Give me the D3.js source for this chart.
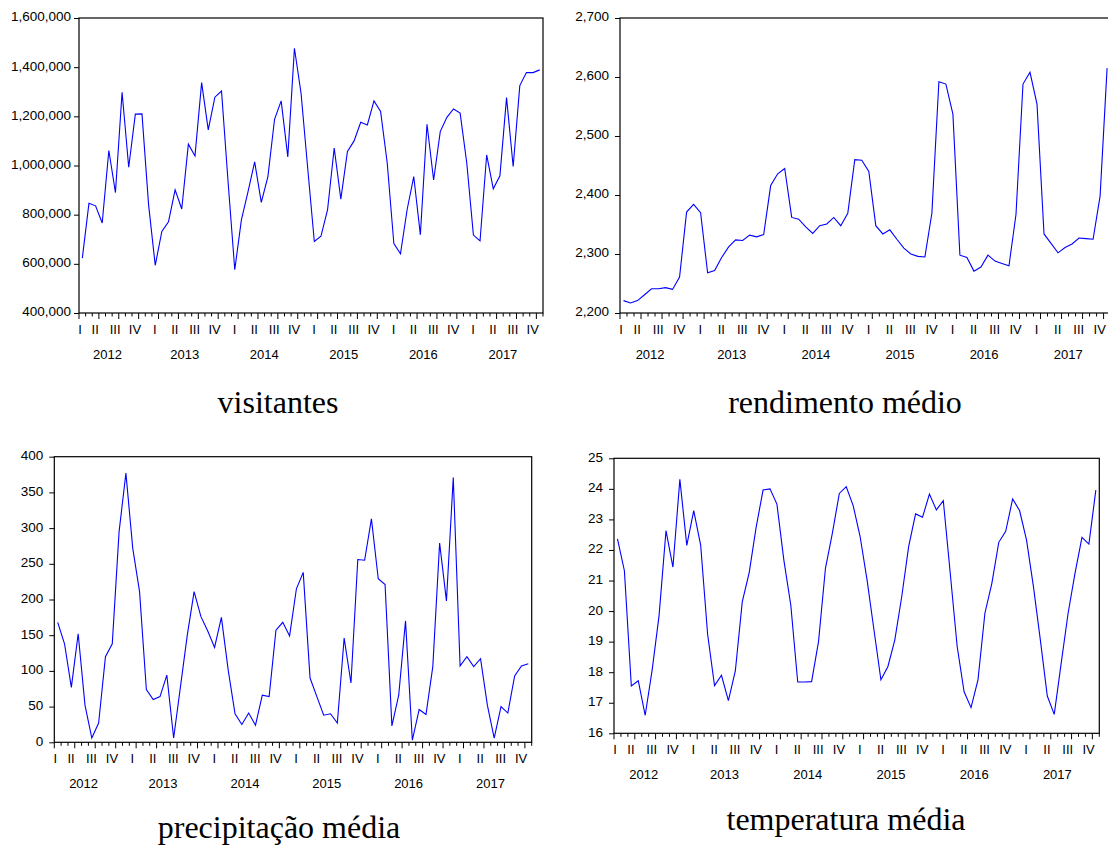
<!DOCTYPE html>
<html>
<head>
<meta charset="utf-8">
<script src="https://cdn.jsdelivr.net/npm/d3@7"></script>
<style>
  body { margin: 0; background: #fff; }
  text { font-family: Arial, "Liberation Sans", sans-serif; }
</style>
</head>
<body>
<div id="chart"></div>
<script>
// monthly observations, 2012M01 .. 2017M10
const years = ["2012", "2013", "2014", "2015", "2016", "2017"];
const quarters = ["I", "II", "III", "IV"];

const visitantes = [
  623000, 846000, 836000, 766000, 1061000, 890000, 1298000, 993000, 1209000, 1210000, 840000, 594000,
  732000, 771000, 901000, 823000, 1087000, 1039000, 1337000, 1145000, 1278000, 1303000, 930000, 576000,
  779000, 894000, 1015000, 850000, 955000, 1188000, 1263000, 1035000, 1477000, 1294000, 990000, 691000,
  712000, 820000, 1071000, 863000, 1057000, 1100000, 1176000, 1165000, 1263000, 1220000, 1010000, 682000,
  641000, 820000, 955000, 718000, 1168000, 941000, 1138000, 1196000, 1230000, 1213000, 1010000, 717000,
  693000, 1043000, 905000, 958000, 1276000, 996000, 1325000, 1378000, 1378000, 1389000
];
const rendimento = [
  2221, 2217, 2221, 2231, 2241, 2241, 2243, 2240, 2261, 2371, 2384, 2370,
  2268, 2272, 2294, 2312, 2324, 2323, 2332, 2329, 2333, 2416, 2436, 2445,
  2362, 2359, 2346, 2335, 2348, 2351, 2362, 2348, 2369, 2460, 2459, 2440,
  2348, 2334, 2341, 2325, 2310, 2300, 2296, 2295, 2369, 2592, 2588, 2537,
  2298, 2294, 2271, 2278, 2298, 2288, 2284, 2280, 2367, 2588, 2608, 2554,
  2334, 2318, 2302, 2311, 2317, 2327, 2326, 2325, 2398, 2615
];
const precipitacao = [
  168, 138, 77, 152, 52, 6, 27, 120, 138, 295, 377, 272,
  211, 74, 60, 64, 94, 6, 78, 150, 211, 176, 156, 133,
  175, 101, 40, 25, 41, 24, 66, 64, 157, 168, 149, 215,
  238, 90, 64, 38, 40, 27, 146, 83, 256, 255, 313, 229,
  221, 23, 66, 170, 3, 46, 39, 106, 279, 198, 371, 107,
  120, 106, 117, 52, 6, 50, 41, 93, 107, 110
];
const temperatura = [
  22.36, 21.32, 17.55, 17.72, 16.59, 18.07, 19.85, 22.63, 21.44, 24.31, 22.15, 23.29,
  22.16, 19.25, 17.56, 17.90, 17.07, 18.04, 20.30, 21.26, 22.74, 23.96, 24.00, 23.50,
  21.67, 20.20, 17.68, 17.68, 17.69, 19.00, 21.40, 22.55, 23.85, 24.07, 23.45, 22.44,
  21.02, 19.38, 17.75, 18.18, 19.05, 20.47, 22.11, 23.18, 23.07, 23.83, 23.31, 23.61,
  21.24, 18.84, 17.36, 16.84, 17.75, 19.93, 20.91, 22.25, 22.61, 23.67, 23.29, 22.33,
  20.80, 19.05, 17.22, 16.62, 18.29, 19.93, 21.24, 22.41, 22.19, 23.96
];

const visTicks = [400000, 600000, 800000, 1000000, 1200000, 1400000, 1600000];
const rendTicks = [2200, 2300, 2400, 2500, 2600, 2700];
const precTicks = [0, 50, 100, 150, 200, 250, 300, 350, 400];
const tempTicks = [16, 17, 18, 19, 20, 21, 22, 23, 24, 25];

const W = 1108, H = 850;
const n = visitantes.length;

const svg = d3.select("#chart")
  .append("svg")
    .attr("width", W)
    .attr("height", H);

svg.append("rect").attr("width", W).attr("height", H).attr("fill", "#fff");

function panel(o) {
  const g = svg.append("g");
  const x = d3.scaleLinear().domain([0, n]).range([o.left, o.right]);
  const y = d3.scaleLinear().domain(o.domain).range([o.bottom, o.top]);

  // y axis
  g.append("g")
    .attr("transform", "translate(" + o.left + ",0)")
    .call(d3.axisLeft(y).tickValues(o.ticks).tickSize(5).tickPadding(o.pad)
      .tickFormat(d3.format(",")))
    .call(a => a.select(".domain").remove())
    .call(a => a.selectAll("line").attr("stroke", "#000"))
    .call(a => a.selectAll("text").attr("font-size", 13.5).attr("fill", "#000")
      .attr("dy", "0.22em"));

  // x ticks: every month, longer at quarter starts
  const months = d3.range(0, n + 1);
  g.append("g").selectAll("line")
    .data(months)
    .enter()
    .append("line")
      .attr("x1", d => x(d))
      .attr("x2", d => x(d))
      .attr("y1", o.bottom)
      .attr("y2", d => o.bottom + (d % 3 == 0 ? 6 : 3.5))
      .attr("stroke", "#000")
      .attr("stroke-width", 1);

  // quarter labels
  const qs = d3.range(0, Math.ceil(n / 3));
  const qx = k => Math.max(o.left + 1, x(3 * k - 0.55));
  g.append("g").selectAll("text")
    .data(qs)
    .enter()
    .append("text")
      .attr("x", qx)
      .attr("y", o.bottom + 21)
      .attr("text-anchor", "middle")
      .attr("font-size", 13)
      .text(k => quarters[k % 4]);

  // year labels centred under I..IV
  g.append("g").selectAll("text")
    .data(years)
    .enter()
    .append("text")
      .attr("x", (d, i) => (qx(4 * i) + qx(4 * i + 3)) / 2)
      .attr("y", o.bottom + 46)
      .attr("text-anchor", "middle")
      .attr("font-size", 13)
      .text(d => d);

  // frame
  g.append("rect")
    .attr("x", o.left).attr("y", o.top)
    .attr("width", o.right - o.left).attr("height", o.bottom - o.top)
    .attr("fill", "none")
    .attr("stroke", "#000")
    .attr("stroke-width", 1.2);

  // series
  const line = d3.line()
    .x((d, i) => x(i + 0.5))
    .y(d => y(d));
  g.append("path")
    .datum(o.data)
    .attr("d", line)
    .attr("fill", "none")
    .attr("stroke", "#0000ff")
    .attr("stroke-width", 1.1);

  // title
  svg.append("text")
    .attr("x", o.tx)
    .attr("y", o.ty)
    .attr("text-anchor", "middle")
    .style("font-family", "'Liberation Serif', 'Times New Roman', serif")
    .attr("font-size", 32)
    .text(o.title);
}

panel({ data: visitantes, domain: [400000, 1600000], ticks: visTicks,
  left: 79, right: 543, top: 18, bottom: 313, pad: 3,
  title: "visitantes", tx: 278, ty: 413 });
panel({ data: rendimento, domain: [2200, 2700], ticks: rendTicks,
  left: 620, right: 1110.6, top: 18, bottom: 313, pad: 6,
  title: "rendimento médio", tx: 845, ty: 413 });
panel({ data: precipitacao, domain: [0, 400], ticks: precTicks,
  left: 54.3, right: 531.7, top: 456.7, bottom: 742.3, pad: 6,
  title: "precipitação média", tx: 279, ty: 838 });
panel({ data: temperatura, domain: [16, 25], ticks: tempTicks,
  left: 614, right: 1099.3, top: 458.3, bottom: 733.3, pad: 6,
  title: "temperatura média", tx: 846, ty: 830 });
</script>
</body>
</html>
